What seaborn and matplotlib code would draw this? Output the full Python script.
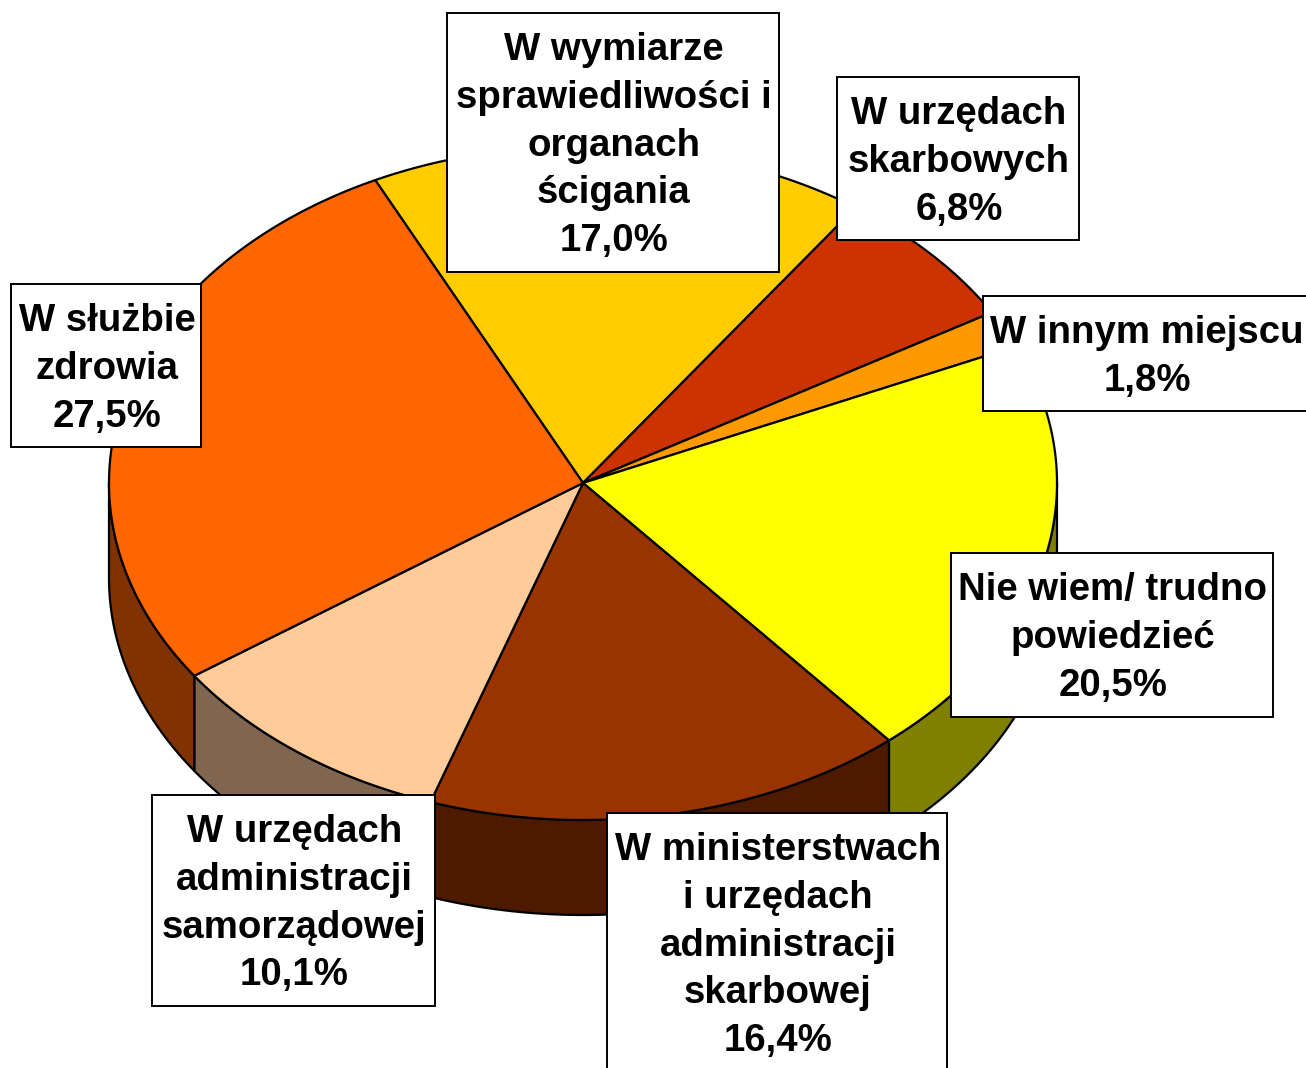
import numpy as np
import matplotlib
matplotlib.use('Agg')
import matplotlib.pyplot as plt
import seaborn as sns

# udzial odpowiedzi, zgodnie z ruchem wskazowek zegara
names = ['W wymiarze\nsprawiedliwości i\norganach\nścigania',
         'W urzędach\nskarbowych',
         'W innym miejscu',
         'Nie wiem/ trudno\npowiedzieć',
         'W ministerstwach\ni urzędach\nadministracji\nskarbowej',
         'W urzędach\nadministracji\nsamorządowej',
         'W służbie\nzdrowia']
values = [17.0, 6.8, 1.8, 20.5, 16.4, 10.1, 27.5]
top_colors = ['#FFCC00', '#CC3300', '#FF9900', '#FFFF00', '#993300', '#FFCC99', '#FF6600']
side_colors = ['#806600', '#661A00', '#804D00', '#808000', '#4D1A00', '#806650', '#803300']

# ramki podpisow: lewo, gora, prawo, dol, pierwsza linia bazowa
boxes = [(447, 13, 779, 272, 60),
         (837, 77, 1079, 240, 124),
         (983, 296, 1309, 411, 343),
         (951, 553, 1273, 717, 600),
         (607, 813, 947, 1080, 860),
         (152, 795, 435, 1006, 842),
         (11, 284, 201, 447, 331)]

cx, cy = 583, 483
rx, ry = 474, 337
depth = 95
start = 116
line_step = 47.8

sns.set_style('white')
plt.rcParams['font.family'] = ['Liberation Sans', 'DejaVu Sans']


def arc(t0, t1):
    t = np.radians(np.linspace(t0, t1, 120))
    return cx + rx * np.cos(t), cy - ry * np.sin(t)


fig = plt.figure(figsize=(13.06, 10.68), dpi=100)
ax = fig.add_axes([0, 0, 1, 1])
ax.set_xlim(0, 1306)
ax.set_ylim(1068, 0)
ax.axis('off')

sweep = np.array(values) / sum(values) * 360
ends = start - np.cumsum(sweep)
starts = ends + sweep

# scianka boczna
for t0, t1, col in zip(starts, ends, side_colors):
    hi, lo = min(t0, 0), max(t1, -180)
    if hi <= lo:
        continue
    x, y = arc(hi, lo)
    ax.fill(np.r_[x, x[::-1]], np.r_[y, y[::-1] + depth], facecolor=col,
            edgecolor='black', linewidth=1.6, joinstyle='round', zorder=1)

# gorna powierzchnia
for t0, t1, col in zip(starts, ends, top_colors):
    x, y = arc(t0, t1)
    ax.fill(np.r_[cx, x], np.r_[cy, y], facecolor=col, edgecolor='black',
            linewidth=1.6, joinstyle='round', zorder=2)

# podpisy
for name, val, box in zip(names, values, boxes):
    left, top, right, bottom, base = box
    ax.fill([left, right, right, left], [top, top, bottom, bottom], facecolor='white',
            edgecolor='black', linewidth=1.4, zorder=3)
    lines = name.split('\n') + [f'{val:.1f}%'.replace('.', ',')]
    for i, line in enumerate(lines):
        ax.text((left + right) / 2 + 1, base + i * line_step, line, ha='center', va='baseline',
                fontsize=27.6, fontweight='bold', color='black', zorder=4)

fig.savefig('out.png', dpi=100)
